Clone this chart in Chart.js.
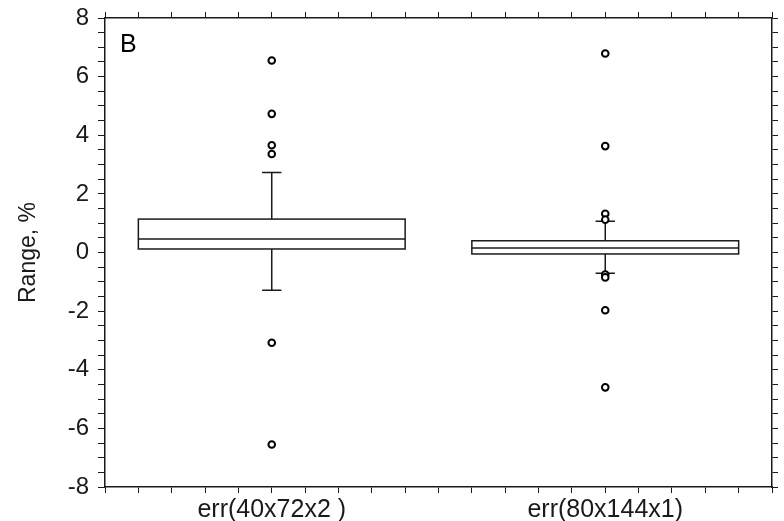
<!DOCTYPE html>
<html>
<head>
<meta charset="utf-8">
<script src="https://cdn.jsdelivr.net/npm/chart.js@4"></script>
<style>
  html, body { margin: 0; padding: 0; background: #fff; }
  #wrap { width: 784px; height: 521px; }
</style>
</head>
<body>
<div id="wrap"><canvas id="boxChart"></canvas></div>
<script>
// Data
const categories = ["err(40x72x2 )", "err(80x144x1)"];
const q1 = [0.12, -0.05];
const medians = [0.46, 0.15];
const q3 = [1.14, 0.40];
const whiskerLow = [-1.29, -0.71];
const whiskerHigh = [2.73, 1.07];
const outliersA = [6.55, 4.73, 3.66, 3.36, -3.08, -6.55];
const outliersB = [6.79, 3.63, 1.32, 1.12, -0.75, -0.85, -1.97, -4.6];
const yTickLabels = [-8, -6, -4, -2, 0, 2, 4, 6, 8];

const FONT = "'Liberation Sans', Arial, Helvetica, sans-serif";
const INK = "#1a1a1a";

document.addEventListener("DOMContentLoaded", function () {
  const ctx = document.getElementById("boxChart");

  // boxes, medians and whiskers, drawn through the chart's scales
  const boxPlugin = {
    id: "boxPlot",
    beforeDatasetsDraw(chart) {
      const c = chart.ctx;
      const x = chart.scales.x;
      const y = chart.scales.y;
      const catWidth = x.getPixelForValue(1) - x.getPixelForValue(0);
      const half = catWidth * 0.4;
      const cap = catWidth * 0.029;
      c.save();
      c.strokeStyle = INK;
      c.lineWidth = 1.5;
      categories.forEach(function (label, i) {
        const cx = x.getPixelForValue(i);
        const top = y.getPixelForValue(q3[i]);
        const bot = y.getPixelForValue(q1[i]);
        const med = y.getPixelForValue(medians[i]);
        const hi = y.getPixelForValue(whiskerHigh[i]);
        const lo = y.getPixelForValue(whiskerLow[i]);
        c.beginPath();
        c.moveTo(cx, top); c.lineTo(cx, hi);
        c.moveTo(cx - cap, hi); c.lineTo(cx + cap, hi);
        c.moveTo(cx, bot); c.lineTo(cx, lo);
        c.moveTo(cx - cap, lo); c.lineTo(cx + cap, lo);
        c.stroke();
        c.fillStyle = "#fff";
        c.fillRect(cx - half, top, half * 2, bot - top);
        c.strokeRect(cx - half, top, half * 2, bot - top);
        c.beginPath();
        c.moveTo(cx - half, med); c.lineTo(cx + half, med);
        c.stroke();
      });
      c.restore();
    },
    afterDraw(chart) {
      const c = chart.ctx;
      const area = chart.chartArea;
      c.save();
      c.fillStyle = "#000";
      c.font = "25px " + FONT;
      c.textBaseline = "alphabetic";
      c.fillText("B", area.left + 15, area.top + 34);
      c.restore();
    },
  };

  const gridStyle = {
    drawOnChartArea: false,
    drawTicks: true,
    tickLength: 6,
    tickColor: INK,
    tickWidth: 1,
  };
  const borderStyle = { display: true, color: INK, width: 1.5 };

  // pin the side boxes so the plot frame sits where the reference has it
  function pinWidth(w) {
    return function (s) {
      s.width = w;
      s.paddingTop = 0;
      s.paddingBottom = 0;
    };
  }

  new Chart(ctx, {
    type: "scatter",
    data: {
      datasets: [
        {
          label: categories[0],
          data: outliersA.map(function (v) { return { x: 0, y: v }; }),
        },
        {
          label: categories[1],
          data: outliersB.map(function (v) { return { x: 1, y: v }; }),
        },
      ],
    },
    options: {
      responsive: true,
      maintainAspectRatio: false,
      animation: false,
      layout: { padding: 0 },
      elements: {
        point: {
          pointStyle: "circle",
          radius: 3.3,
          borderWidth: 2,
          borderColor: "#000",
          backgroundColor: "#fff",
        },
      },
      plugins: {
        legend: { display: false },
        tooltip: { enabled: false },
      },
      scales: {
        x: {
          type: "linear",
          position: "bottom",
          min: -0.5,
          max: 1.5,
          grid: gridStyle,
          border: borderStyle,
          ticks: {
            stepSize: 0.1,
            autoSkip: false,
            maxRotation: 0,
            padding: 2,
            color: INK,
            font: { family: FONT, size: 25 },
            callback: function (v) {
              const i = Math.round(v);
              return Math.abs(v - i) < 1e-6 && categories[i] ? categories[i] : "";
            },
          },
          afterFit: function (s) { s.height = 34; },
        },
        xTop: {
          type: "linear",
          position: "top",
          min: -0.5,
          max: 1.5,
          grid: gridStyle,
          border: borderStyle,
          ticks: { stepSize: 0.1, autoSkip: false, display: false },
          afterFit: function (s) { s.height = 18; },
        },
        y: {
          type: "linear",
          position: "left",
          min: -8,
          max: 8,
          grid: Object.assign({}, gridStyle, { tickLength: 7 }),
          border: borderStyle,
          title: {
            display: true,
            text: "Range, %",
            color: INK,
            font: { family: FONT, size: 23 },
            padding: { top: 15, bottom: 0 },
          },
          ticks: {
            color: INK,
            font: { family: FONT, size: 24 },
            stepSize: 0.5,
            autoSkip: false,
            padding: 9,
            callback: function (v) {
              return yTickLabels.indexOf(v) >= 0 ? String(v) : "";
            },
          },
          afterFit: pinWidth(105),
        },
        yRight: {
          type: "linear",
          position: "right",
          min: -8,
          max: 8,
          grid: gridStyle,
          border: borderStyle,
          ticks: { stepSize: 0.5, autoSkip: false, display: false },
          afterFit: pinWidth(12),
        },
      },
    },
    plugins: [boxPlugin],
  });
});
</script>
</body>
</html>
